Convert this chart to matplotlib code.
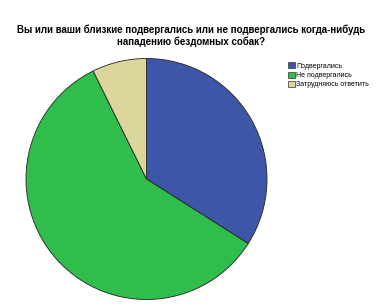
import matplotlib.pyplot as plt
from matplotlib.patches import Patch

labels = ['Подвергались', 'Не подвергались', 'Затрудняюсь ответить']
shares = [34.0, 58.7, 7.3]
colors = ['#3e56a8', '#2fbd4b', '#dcd69c']
title = 'Вы или ваши близкие подвергались или не подвергались когда-нибудь\nнападению бездомных собак?'

plt.rcParams['font.family'] = ['Liberation Sans', 'DejaVu Sans']

fig = plt.figure(figsize=(3.82, 3.06), dpi=100)
fig.patch.set_facecolor('white')

fig.text(0.5, 1 - 36 / 306, title, ha='center', va='center', fontsize=7.0,
         fontweight='bold', linespacing=1.15)

# pie axes: center ~ (146.5, 179) px, radius ~120.5 px
r = 120.5
cx, cy = 146.5, 306 - 179
ax = fig.add_axes([(cx - r) / 382, (cy - r) / 306, 2 * r / 382, 2 * r / 306])
ax.pie(shares, colors=colors, startangle=90, counterclock=False,
       wedgeprops=dict(edgecolor='#222222', linewidth=0.6))
ax.set_aspect('auto')
ax.set_xlim(-1, 1)
ax.set_ylim(-1, 1)

handles = [Patch(facecolor=c, edgecolor='#333333', linewidth=0.5) for c in colors]
fig.legend(handles, labels, loc='upper left', bbox_to_anchor=(285 / 382, 1 - 59 / 306),
           frameon=False, fontsize=5, handlelength=0.9, handleheight=0.9,
           handletextpad=0.2, labelspacing=0.3, borderpad=0)

fig.savefig('out.png', dpi=100)
